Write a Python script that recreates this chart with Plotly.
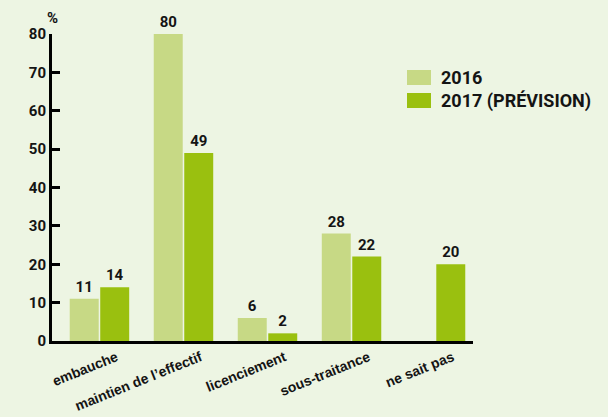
import plotly.graph_objects as go

categories = ["embauche", "maintien de l\u2019effectif", "licenciement", "sous-traitance", "ne sait pas"]
values_2016 = [11, 80, 6, 28, None]
values_2017 = [14, 49, 2, 22, 20]
series_names = ["2016", "2017 (PRÉVISION)"]
y_ticks = [0, 10, 20, 30, 40, 50, 60, 70, 80]

BG = "#EDF5E3"
C16 = "#C7D985"
C17 = "#9AC00F"
TXT = "#141414"
NUM_FONT = dict(family="Roboto", size=15, color=TXT, weight="bold")

fig = go.Figure()
for name, vals, col in [(series_names[0], values_2016, C16), (series_names[1], values_2017, C17)]:
    fig.add_trace(go.Bar(
        x=categories, y=vals, name=name, marker=dict(color=col, line=dict(width=0)),
        text=[("" if v is None else str(v)) for v in vals], textposition="outside",
        textfont=NUM_FONT, cliponaxis=False, showlegend=False, hoverinfo="skip",
    ))

L, R, T, B = 52, 135, 34, 76
W, H = 608, 417
pw, ph = W - L - R, H - T - B

def px(x):
    return (x - L) / pw

def py(y):
    return (H - B - y) / ph

shapes = []
annotations = []
legend_items = [(series_names[0], C16, 70, 85), (series_names[1], C17, 93, 108)]
for name, col, y0, y1 in legend_items:
    shapes.append(dict(type="rect", xref="paper", yref="paper", x0=px(407), x1=px(431),
                       y0=py(y1), y1=py(y0), fillcolor=col, line=dict(width=0)))
    annotations.append(dict(xref="paper", yref="paper", x=px(439), y=py((y0 + y1) / 2),
                            text=name, showarrow=False, xanchor="left", yanchor="middle",
                            font=dict(family="Roboto", size=18, color=TXT, weight="bold")))
annotations.append(dict(xref="paper", yref="paper", x=px(52), y=py(18), text="%",
                        showarrow=False, xanchor="center", yanchor="middle",
                        font=dict(family="Roboto", size=15, color=TXT, weight="bold")))

fig.update_layout(
    width=W, height=H, margin=dict(l=L, r=R, t=T, b=B, autoexpand=False),
    paper_bgcolor=BG, plot_bgcolor=BG, barmode="group", bargap=0.274, bargroupgap=0.05,
    shapes=shapes, annotations=annotations, showlegend=False,
    xaxis=dict(range=[-0.565, 4.446], showgrid=False, zeroline=False, showline=True,
               linecolor="black", linewidth=3, ticks="", tickangle=-22, ticklabelshift=17,
               tickfont=dict(family="Liberation Sans", size=14, color=TXT, weight="bold")),
    yaxis=dict(range=[0, 80], tickvals=y_ticks, showgrid=False, zeroline=False, showline=True,
               linecolor="black", linewidth=3, ticks="inside", ticklen=8, tickwidth=3,
               tickcolor="black", tickfont=NUM_FONT),
)

fig.write_html("out.html", config={"displayModeBar": False},
               post_script="document.body.style.margin='0';document.body.style.background='%s';" % BG)
